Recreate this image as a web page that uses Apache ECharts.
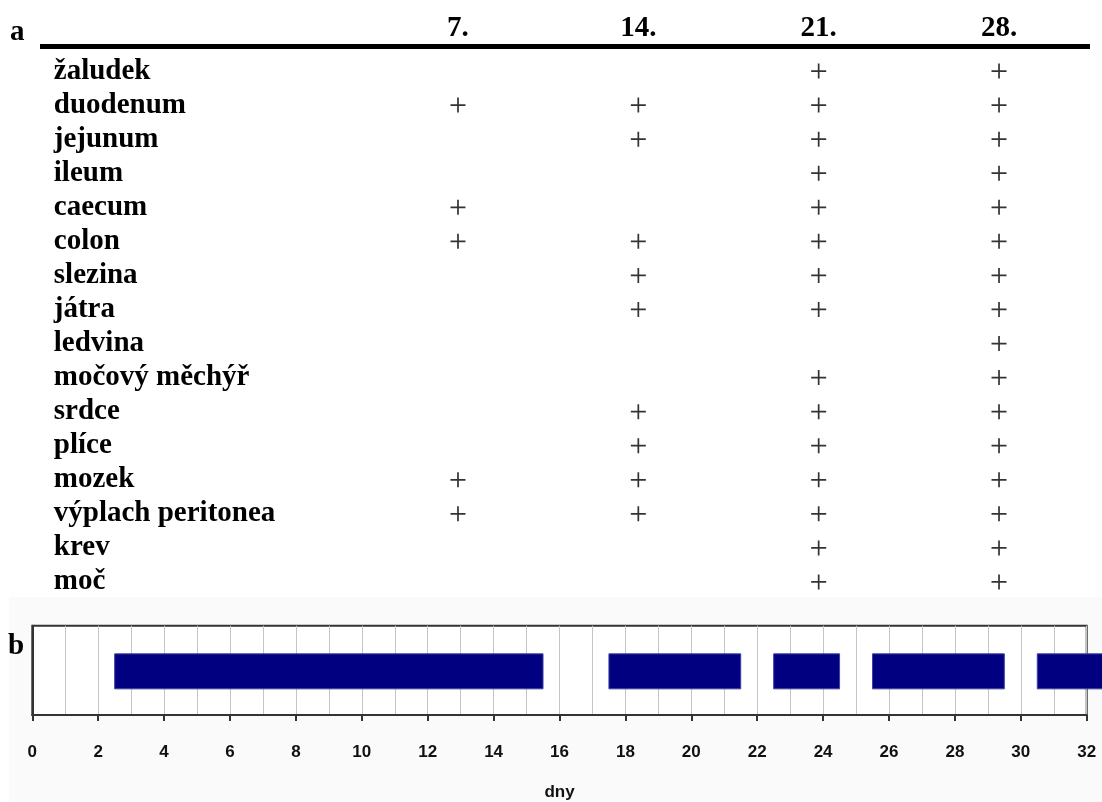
<!DOCTYPE html>
<html><head><meta charset="utf-8">
<script src="https://cdn.jsdelivr.net/npm/echarts@6/dist/echarts.min.js"></script>
<style>html,body{margin:0;padding:0;background:#fff}#c{width:1102px;height:802px}</style>
</head><body><div id="c"></div>
<script>
// ---- data ----
const organs = ['žaludek','duodenum','jejunum','ileum','caecum','colon','slezina','játra','ledvina','močový měchýř','srdce','plíce','mozek','výplach peritonea','krev','moč'];
const days = ['7.','14.','21.','28.'];
// 1 = positive (+) for the organ at that day
const day7  = [0,1,0,0,1,1,0,0,0,0,0,0,1,1,0,0];
const day14 = [0,1,1,0,0,1,1,1,0,0,1,1,1,1,0,0];
const day21 = [1,1,1,1,1,1,1,1,0,1,1,1,1,1,1,1];
const day28 = [1,1,1,1,1,1,1,1,1,1,1,1,1,1,1,1];
const dayFlags = [day7, day14, day21, day28];
// panel b periods (days)
const periodStart = [2.5, 17.5, 22.5, 25.5, 30.5];
const periodEnd   = [15.5, 21.5, 24.5, 29.5, 33];
const axisMin = 0, axisMax = 32, axisStep = 2;
const axisName = 'dny';

// ---- build ----
const plusData = [];
dayFlags.forEach((flags, d) => flags.forEach((f, i) => { if (f) plusData.push([days[d], organs[i]]); }));
const periodData = periodStart.map((s, i) => [s, periodEnd[i], 0]);

const SERIF = '"Liberation Serif", "Times New Roman", serif';
const SANS = '"Liberation Sans", Arial, sans-serif';

const chart = echarts.init(document.getElementById('c'), null, {renderer: 'canvas'});
chart.setOption({
  backgroundColor: '#ffffff',
  animation: false,
  graphic: [
    {type: 'rect', z: -10, silent: true, shape: {x: 9, y: 597, width: 1093, height: 205}, style: {fill: '#fafafa'}},
    {type: 'rect', shape: {x: 40, y: 44, width: 1050, height: 5}, style: {fill: '#000'}},
    {type: 'text', x: 10, y: 33, style: {text: 'a', font: 'bold 29px ' + SERIF, fill: '#000', verticalAlign: 'middle'}},
    {type: 'text', x: 8, y: 647, style: {text: 'b', font: 'bold 29px ' + SERIF, fill: '#000', verticalAlign: 'middle'}}
  ],
  grid: [
    {left: 367.8, right: 12.8, top: 54, height: 545},
    {left: 32.3, right: 15.3, top: 625.7, height: 96, show: true, backgroundColor: '#fff', borderColor: '#333', borderWidth: 2}
  ],
  xAxis: [
    {gridIndex: 0, type: 'category', data: days, position: 'top',
     axisLine: {show: false}, axisTick: {show: false}, splitLine: {show: false},
     axisLabel: {interval: 0, margin: 11, fontFamily: SERIF, fontWeight: 'bold', fontSize: 29, color: '#000'}},
    {gridIndex: 1, type: 'value', min: axisMin, max: axisMax, interval: axisStep,
     name: axisName, nameLocation: 'middle', nameGap: 69,
     nameTextStyle: {fontFamily: SANS, fontSize: 17, fontWeight: 'bold', color: '#111'},
     axisLine: {show: true, lineStyle: {color: '#333', width: 2}},
     axisTick: {show: true, length: 6, lineStyle: {color: '#333', width: 2}},
     axisLabel: {margin: 29, fontFamily: SANS, fontSize: 17, fontWeight: 'bold', color: '#111'},
     splitLine: {show: true, lineStyle: {color: '#c4c4c4', width: 1}},
     minorTick: {show: false, splitNumber: 2},
     minorSplitLine: {show: true, lineStyle: {color: '#c4c4c4', width: 1}}}
  ],
  yAxis: [
    {gridIndex: 0, type: 'category', data: organs, inverse: true,
     axisLine: {show: false}, axisTick: {show: false}, splitLine: {show: false},
     axisLabel: {interval: 0, align: 'left', margin: 314, fontFamily: SERIF, fontWeight: 'bold', fontSize: 29, color: '#000'}},
    {gridIndex: 1, type: 'category', data: [''],
     axisLine: {show: true, lineStyle: {color: '#333', width: 2}}, axisTick: {show: false}, axisLabel: {show: false}, splitLine: {show: false}}
  ],
  series: [
    {type: 'scatter', xAxisIndex: 0, yAxisIndex: 0, data: plusData,
     symbol: 'path://M0,6.2H14V7.8H0Z M6.2,0H7.8V14H6.2Z', symbolSize: [15, 15],
     itemStyle: {color: '#000'}},
    {type: 'custom', xAxisIndex: 1, yAxisIndex: 1, clip: false, data: periodData,
     encode: {x: [0, 1], y: 2},
     renderItem: function (params, api) {
       const s = api.coord([api.value(0), api.value(2)]);
       const e = api.coord([api.value(1), api.value(2)]);
       const h = 35;
       return {type: 'rect', shape: {x: s[0], y: s[1] - h / 2 + 1, width: e[0] - s[0], height: h},
               style: {fill: '#000080', stroke: '#4040a0', lineWidth: 1}};
     }}
  ]
});
</script></body></html>
